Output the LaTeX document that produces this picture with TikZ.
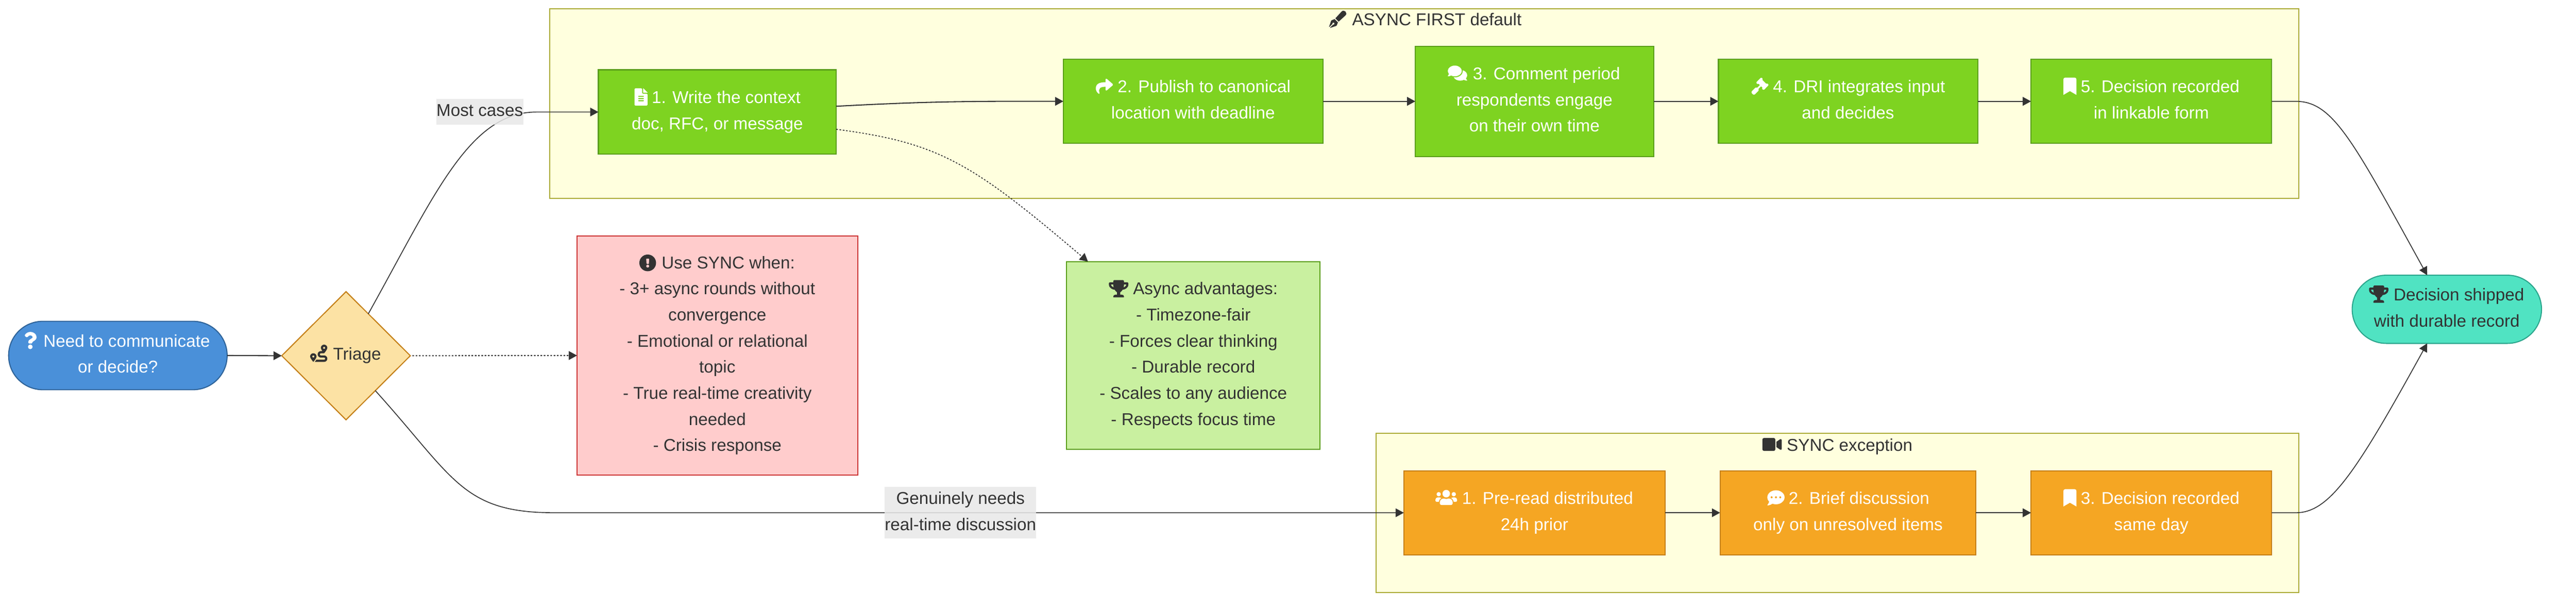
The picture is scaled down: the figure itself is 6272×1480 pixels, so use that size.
\documentclass[tikz,border=0pt]{standalone}
\usepackage{fontspec}
\setmainfont{Liberation Sans}
\usetikzlibrary{arrows.meta,shapes.geometric,calc}
\definecolor{txt}{HTML}{333333}
\definecolor{edgecol}{HTML}{333333}
\definecolor{clfill}{HTML}{FFFFDE}
\definecolor{clline}{HTML}{AAAA33}
\definecolor{grfill}{HTML}{7ED321}
\definecolor{grline}{HTML}{5A9E1A}
\definecolor{orfill}{HTML}{F5A623}
\definecolor{orline}{HTML}{C47F17}
\definecolor{blfill}{HTML}{4A90D9}
\definecolor{blline}{HTML}{2E6399}
\definecolor{yefill}{HTML}{FCE2A4}
\definecolor{yeline}{HTML}{C47F17}
\definecolor{refill}{HTML}{FFCCCC}
\definecolor{reline}{HTML}{CC3333}
\definecolor{ntfill}{HTML}{C9F0A0}
\definecolor{ntline}{HTML}{5A9E1A}
\definecolor{tefill}{HTML}{50E3C2}
\definecolor{teline}{HTML}{2BA58C}
\definecolor{lbfill}{HTML}{E8E8E8}
\newcommand\topst{\rule{0pt}{15pt}}
\newcommand\botst{\rule[-4.4pt]{0pt}{4.4pt}}
\newcommand\icf{\hspace*{15.75pt}}
\newcommand\icg{\hspace*{21pt}}
\newcommand\ich{\hspace*{23.6pt}}
\newcommand\ici{\hspace*{26.25pt}}
\tikzset{
  sz/.style 2 args={minimum width=#1*0.5pt,minimum height=#2*0.5pt},
  base/.style={inner sep=0pt,outer sep=0pt,align=center,line width=1.3pt,
    font=\fontsize{20.85pt}{31.75pt}\selectfont,text=txt,
    execute at begin node=\topst,execute at end node=\botst},
  cluster/.style={draw=clline,fill=clfill,inner sep=0pt,outer sep=0pt,line width=1.3pt},
  cltitle/.style={base},
  grbox/.style={base,rectangle,draw=grline,fill=grfill,text=white},
  orbox/.style={base,rectangle,draw=orline,fill=orfill,text=white},
  stadb/.style={base,rectangle,rounded corners=41.5pt,draw=blline,fill=blfill,text=white},
  stadt/.style={base,rectangle,rounded corners=41.5pt,draw=teline,fill=tefill},
  triage/.style={base,diamond,aspect=1,draw=yeline,fill=yefill},
  redbox/.style={base,rectangle,draw=reline,fill=refill},
  notebox/.style={base,rectangle,draw=ntline,fill=ntfill},
  elabel/.style={base,rectangle,fill=lbfill,fill opacity=0.85,text opacity=1},
  edge/.style={draw=edgecol,line width=1.3pt,-{Triangle[length=10pt,width=10.5pt]}},
  edgethin/.style={edge,line width=1.05pt},
  dots/.style={edge,line width=1.05pt,dash pattern=on 2pt off 2pt},
  fa/.style={scale=0.082},
  pics/ifile/.style={code={
    \fill[#1,even odd rule,rounded corners=0.9pt] (224,136)--(224,0)--(0,0)--(0,512)--(384,512)--(384,160)--(224,160)--cycle
      (96,224) rectangle (288,256) (96,288) rectangle (288,320) (96,352) rectangle (288,384);
    \fill[#1] (256,0)--(262,0)--(384,122)--(384,128)--(256,128)--cycle;}},
  pics/ibookmark/.style={code={
    \fill[#1] (0,512)--(0,48) .. controls (0,21) and (21,0) .. (48,0)--(336,0) .. controls (363,0) and (384,21) .. (384,48)--(384,512)--(192,400)--cycle;}},
  pics/ishare/.style={code={
    \fill[#1] (504,190)--(328,38) .. controls (312,25) and (288,35) .. (288,56)--(288,136)
      .. controls (127,138) and (0,170) .. (0,323) .. controls (0,384) and (40,445) .. (84,477)
      .. controls (97,487) and (117,475) .. (112,459) .. controls (66,313) and (133,273) .. (288,271)
      --(288,360) .. controls (288,381) and (312,391) .. (328,378)--(504,226) .. controls (515,216) and (515,199) .. (504,190)--cycle;}},
  pics/icomments/.style={code={
    \fill[#1] (208,192) ellipse [x radius=208,y radius=160];
    \fill[#1] (40,270) .. controls (27,300) and (5,335) .. (2,338) .. controls (-3,345) and (2,352) .. (8,352) .. controls (45,352) and (75,340) .. (100,325)--cycle;
    \fill[#1] (538,412) .. controls (562,386) and (576,354) .. (576,320) .. controls (576,253) and (522,196) .. (447,172)
      .. controls (448,178) and (448,185) .. (448,192) .. controls (448,298) and (340,384) .. (208,384)
      .. controls (197,384) and (187,383) .. (176,382) .. controls (208,440) and (282,480) .. (368,480)
      .. controls (409,480) and (447,471) .. (479,455) .. controls (501,468) and (531,480) .. (568,480)
      .. controls (575,480) and (579,472) .. (574,467) .. controls (570,463) and (551,442) .. (538,412)--cycle;}},
  pics/igavel/.style={code={
    \fill[#1,rounded corners=0.3pt] (505,199)--(482,177)--(449,177)--(443,182)--(330,69)--(335,64)--(335,30)--(313,7)--(279,7)--(154,131)--(154,165)--(177,188)--(211,188)--(216,182)--(256,222)--(175,303)--(169,297)--(124,297)--(9,412)--(9,457)--(55,503)--(100,503)--(215,388)--(215,343)--(209,337)--(290,256)--(330,296)--(324,302)--(324,336)--(347,358)--(381,358)--(505,233)--cycle;}},
  pics/ipen/.style={code={
    \fill[#1] (79,283)--(59,303)--(0,480)--(5,485)--(98,392) .. controls (90,372) and (105,352) .. (128,352)
      .. controls (146,352) and (160,366) .. (160,384) .. controls (160,402) and (146,416) .. (128,416)
      .. controls (125,416) and (123,415) .. (120,414)--(27,507)--(32,512)--(209,453)--(229,433)--(262,349)--(163,250)--cycle;
    \fill[#1] (369,28)--(186,228)--(284,326)--(483,143) .. controls (568,67) and (444,-56) .. (369,28)--cycle;}},
  pics/iusers/.style={code={
    \fill[#1] (96,160) circle [radius=64] (544,160) circle [radius=64] (320,144) circle [radius=112];
    \fill[#1] (576,256)--(512,256) .. controls (494,256) and (478,263) .. (467,275) .. controls (507,297) and (536,337) .. (542,384)
      --(608,384) .. controls (626,384) and (640,370) .. (640,352)--(640,320) .. controls (640,285) and (611,256) .. (576,256)--cycle;
    \fill[#1] (397,288)--(388,288) .. controls (368,298) and (345,304) .. (320,304) .. controls (295,304) and (272,298) .. (252,288)
      --(243,288) .. controls (180,288) and (128,340) .. (128,403)--(128,432) .. controls (128,458) and (150,480) .. (176,480)
      --(464,480) .. controls (490,480) and (512,458) .. (512,432)--(512,403) .. controls (512,340) and (460,288) .. (397,288)--cycle;
    \fill[#1] (173,275) .. controls (162,263) and (146,256) .. (128,256)--(64,256) .. controls (29,256) and (0,285) .. (0,320)
      --(0,352) .. controls (0,370) and (14,384) .. (32,384)--(98,384) .. controls (104,337) and (133,297) .. (173,275)--cycle;}},
  pics/idots/.style={code={
    \fill[#1,even odd rule] (256,240) ellipse [x radius=256,y radius=208]
      (128,240) circle [radius=32] (256,240) circle [radius=32] (384,240) circle [radius=32];
    \fill[#1] (57,360) .. controls (45,421) and (3,466) .. (2,467) .. controls (-3,472) and (2,480) .. (8,480) .. controls (74,480) and (124,448) .. (149,428)--cycle;}},
  pics/ivideo/.style={code={
    \fill[#1] (336,64)--(48,64) .. controls (21,64) and (0,85) .. (0,112)--(0,400) .. controls (0,427) and (21,448) .. (48,448)
      --(336,448) .. controls (363,448) and (384,427) .. (384,400)--(384,112) .. controls (384,85) and (363,64) .. (336,64)--cycle;
    \fill[#1] (526,102)--(416,177)--(416,335)--(526,410) .. controls (547,425) and (576,410) .. (576,384)--(576,128) .. controls (576,102) and (547,87) .. (526,102)--cycle;}},
  pics/iexcl/.style={code={
    \fill[#1,even odd rule] (256,256) circle [radius=248] (256,352) circle [radius=46]
      (212,141)--(220,277) .. controls (220,283) and (225,288) .. (232,288)--(280,288) .. controls (287,288) and (292,283) .. (292,277)--(300,141) .. controls (300,134) and (295,128) .. (288,128)--(224,128) .. controls (217,128) and (212,134) .. (212,141)--cycle;}},
  pics/itrophy/.style={code={
    \fill[#1,even odd rule] (552,64)--(448,64)--(448,24) .. controls (448,11) and (437,0) .. (424,0)--(152,0) .. controls (139,0) and (128,11) .. (128,24)--(128,64)--(24,64)
      .. controls (11,64) and (0,75) .. (0,88)--(0,144) .. controls (0,180) and (23,216) .. (62,245) .. controls (93,267) and (132,282) .. (172,286)
      .. controls (203,338) and (240,360) .. (240,360)--(240,432)--(192,432) .. controls (157,432) and (128,453) .. (128,488)--(128,500) .. controls (128,507) and (133,512) .. (140,512)
      --(436,512) .. controls (443,512) and (448,507) .. (448,500)--(448,488) .. controls (448,453) and (419,432) .. (384,432)--(336,432)--(336,360)
      .. controls (336,360) and (373,338) .. (404,286) .. controls (444,282) and (483,267) .. (514,245) .. controls (553,216) and (576,180) .. (576,144)--(576,88) .. controls (576,75) and (565,64) .. (552,64)--cycle
      (99,193) .. controls (75,175) and (64,156) .. (64,144)--(64,128)--(128,128) .. controls (129,161) and (134,189) .. (141,214) .. controls (126,209) and (112,202) .. (99,193)--cycle
      (512,144) .. controls (512,160) and (494,180) .. (477,193) .. controls (464,202) and (450,209) .. (435,214) .. controls (442,189) and (447,161) .. (448,128)--(512,128)--cycle;}},
  pics/iroute/.style={code={
    \fill[#1,even odd rule] (416,320)--(320,320) .. controls (302,320) and (288,306) .. (288,288) .. controls (288,270) and (302,256) .. (320,256)--(416,256)
      .. controls (416,256) and (512,149) .. (512,96) .. controls (512,43) and (469,0) .. (416,0) .. controls (363,0) and (320,43) .. (320,96) .. controls (320,122) and (342,160) .. (365,192)
      --(320,192) .. controls (267,192) and (224,235) .. (224,288) .. controls (224,341) and (267,384) .. (320,384)--(416,384) .. controls (434,384) and (448,398) .. (448,416) .. controls (448,434) and (434,448) .. (416,448)
      --(186,448) .. controls (170,473) and (152,496) .. (138,512)--(416,512) .. controls (469,512) and (512,469) .. (512,416) .. controls (512,363) and (469,320) .. (416,320)--cycle
      (416,96) circle [radius=32];
    \fill[#1,even odd rule] (96,256) .. controls (43,256) and (0,299) .. (0,352) .. controls (0,405) and (96,512) .. (96,512) .. controls (96,512) and (192,405) .. (192,352) .. controls (192,299) and (149,256) .. (96,256)--cycle
      (96,352) circle [radius=32];}},
  pics/iquestion/.style={code={
    \fill[#1] (202,0) .. controls (122,0) and (71,33) .. (30,91) .. controls (23,102) and (25,116) .. (35,124)--(78,157) .. controls (88,164) and (103,163) .. (111,152)
      .. controls (136,121) and (155,103) .. (194,103) .. controls (225,103) and (263,123) .. (263,153) .. controls (263,175) and (244,187) .. (214,204)
      .. controls (179,224) and (132,249) .. (132,311)--(132,320) .. controls (132,333) and (143,344) .. (156,344)--(228,344) .. controls (241,344) and (252,333) .. (252,320)
      --(252,314) .. controls (252,271) and (378,270) .. (378,154) .. controls (378,66) and (287,0) .. (202,0)--cycle;
    \fill[#1] (192,443) circle [radius=69];}}
}
\begin{document}
\begin{tikzpicture}[x=0.5pt,y=-0.5pt]
\useasboundingbox (0,0) rectangle (6272,1480);
\fill[white] (0,0) rectangle (6272,1480);
% clusters
\node[cluster,sz={4258}{462}] (clA) at (3468,252) {};
\node[cluster,sz={2246}{388}] (clS) at (4474,1249) {};
\node[cltitle] (tA) at (3469,52) {\ich{} ASYNC FIRST default};
\node[cltitle] (tS) at (4474,1087) {\ich{} SYNC exception};
% nodes
\node[stadb,sz={532}{166.5}] (A) at (287,865.5) {\icf{} Need to communicate\\or decide?};
\node[triage,sz={313}{312}] (D) at (842.5,866) {\icg{} Triage};
\node[grbox,sz={579}{205.5}] (W1) at (1746.5,272.7) {\icf{} 1. Write the context\\doc, RFC, or message};
\node[grbox,sz={632}{204.5}] (W2) at (2905,246.7) {\icg{} 2. Publish to canonical\\location with deadline};
\node[grbox,sz={580}{268.5}] (W3) at (3736,246.7) {\ich{} 3. Comment period\\respondents engage\\on their own time};
\node[grbox,sz={631}{204.5}] (W4) at (4499.5,246.7) {\icg{} 4. DRI integrates input\\and decides};
\node[grbox,sz={586}{204.5}] (W5) at (5238,246.7) {\icf{} 5. Decision recorded\\in linkable form};
\node[orbox,sz={636}{204.5}] (S1) at (3736,1248.3) {\ici{} 1. Pre-read distributed\\24h prior};
\node[orbox,sz={623}{204.5}] (S2) at (4499.5,1248.3) {\icg{} 2. Brief discussion\\only on unresolved items};
\node[orbox,sz={586}{204.5}] (S3) at (5238,1248.3) {\icf{} 3. Decision recorded\\same day};
\node[redbox,sz={683}{583}] (R) at (1746.5,865.5) {\icg{} Use SYNC when:\\- 3+ async rounds without\\convergence\\- Emotional or relational\\topic\\- True real-time creativity\\needed\\- Crisis response};
\node[notebox,sz={617}{457}] (N) at (2905.5,865.5) {\ich{} Async advantages:\\- Timezone-fair\\- Forces clear thinking\\- Durable record\\- Scales to any audience\\- Respects focus time};
\node[stadt,sz={461}{166}] (E) at (5957.5,753) {\ich{} Decision shipped\\with durable record};
% edges
\draw[edge] (A.east) -- (D.west);
\draw[edgethin] (D.62) .. controls (1058,475) and (1142,273) .. ($(W1.west)+(-151,0)$) -- (W1.west);
\draw[edgethin] (D.-50) .. controls (1107,1165) and (1125,1248) .. ($(S1.west)+(-2068,0)$) -- (S1.west);
\draw[dots,line width=1.3pt] ($(D.east)+(5,0)$) -- (R.west);
\draw[edge] ($(W1.east)+(0,-14)$) .. controls (2200,250) and (2300,247) .. ($(W2.west)+(-150,0)$) -- (W2.west);
\draw[dots] ($(W1.east)+(0,42)$) .. controls (2286,347.5) and (2366,396) .. ($(N.north west)+(52,0)$);
\draw[edge] (W2.east) -- (W3.west);
\draw[edge] (W3.east) -- (W4.west);
\draw[edge] (W4.east) -- (W5.west);
\draw[edge] (S1.east) -- (S2.west);
\draw[edge] (S2.east) -- (S3.west);
\draw[edgethin] (W5.east) -- ($(W5.east)+(59,0)$) .. controls (5680,247) and (5728,341) .. ($(E.north)+(-48,0)$);
\draw[edgethin] (S3.east) -- ($(S3.east)+(59,0)$) .. controls (5672,1248) and (5736,1151) .. ($(E.south)+(-48,0)$);
% edge labels
\node[elabel,sz={212}{63}] (L1) at (1168,272.5) {Most cases};
\node[elabel,sz={369}{125}] (L2) at (2338.5,1248.5) {Genuinely needs\\real-time discussion};
% icons
\pic[fa] at (58,808) {iquestion=white};
\pic[fa] at (755,839) {iroute=txt};
\pic[fa] at (1545,215) {ifile=white};
\pic[fa] at (2668,189) {ishare=white};
\pic[fa] at (3525,157) {icomments=white};
\pic[fa] at (4264,189) {igavel=white};
\pic[fa] at (5024,189) {ibookmark=white};
\pic[fa] at (3236,26) {ipen=txt};
\pic[fa] at (3495,1190) {iusers=white};
\pic[fa] at (4303,1191) {idots=white};
\pic[fa] at (5024,1191) {ibookmark=white};
\pic[fa] at (4291,1061) {ivideo=txt};
\pic[fa] at (1556,619) {iexcl=txt};
\pic[fa] at (2700,682) {itrophy=txt};
\pic[fa] at (5768,695) {itrophy=txt};
\end{tikzpicture}
\end{document}
